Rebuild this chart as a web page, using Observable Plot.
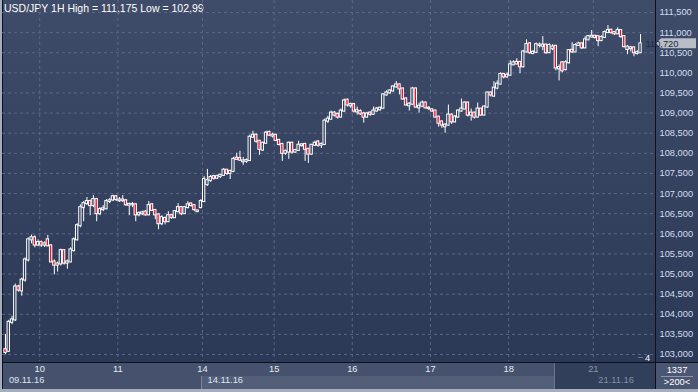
<!DOCTYPE html>
<html><head><meta charset="utf-8">
<script src="https://cdn.jsdelivr.net/npm/d3@7"></script>
<script src="https://cdn.jsdelivr.net/npm/@observablehq/plot@0.6"></script>
<style>
html,body{margin:0;padding:0;background:#2d3a56;}
#wrap{position:relative;width:698px;height:392px;overflow:hidden;background:linear-gradient(#3f4c69,#2c3956 92%);font-family:"Liberation Sans",Arial,sans-serif;}
.abs{position:absolute;}
#wrap svg{position:absolute;left:0;top:0;}
.t{position:absolute;font-size:9.3px;line-height:12px;white-space:pre;}
</style></head><body>
<div id="wrap">
  <div class="abs" style="left:0;top:363px;width:656px;height:13px;background:#46526d"></div>
  <div class="abs" style="left:0;top:376px;width:201px;height:13px;background:#46526d"></div>
  <div class="abs" style="left:201px;top:376px;width:354px;height:13px;background:#535f79"></div>
  <div class="abs" style="left:201px;top:376px;width:1px;height:13px;background:#7b869c"></div>
  <div class="abs" style="left:555px;top:363px;width:101px;height:26px;background:#323f5a"></div>
  <div class="abs" style="left:554px;top:363px;width:1px;height:26px;background:#6a7590"></div>
  <div class="abs" style="left:656px;top:363px;width:42px;height:26px;background:#4b5772"></div>
  <div class="abs" style="left:661px;top:376px;width:32px;height:1px;background:#8c96aa"></div>
  <div class="abs" style="left:0;top:362px;width:698px;height:1px;background:#0b111d"></div>
  <div class="abs" style="left:655px;top:0;width:1px;height:389px;background:#0b111d"></div>
  <div class="abs" style="left:0;top:389px;width:698px;height:3px;background:#a6aebe"></div>
  <div class="abs" style="left:0;top:0;width:2px;height:392px;background:#a6aebe"></div>
  <div class="abs" style="left:2px;top:0;width:1px;height:389px;background:#0b111d"></div>
  <div class="abs" style="left:638px;top:357px;width:5px;height:1px;background:#6d7890"></div>
  <div class="t" id="title" style="left:4px;top:2px;font-size:10.5px;color:#ffffff"></div>
  <div class="t" style="left:645px;top:352px;color:#ffffff">4</div>
  <div class="t" style="left:656px;top:364px;width:42px;text-align:center;color:#ffffff">1337</div>
  <div class="t" style="left:656px;top:376px;width:42px;text-align:center;color:#ffffff">&gt;200&lt;</div>
</div>
<script>
const title = "USD/JPY 1H High = 111,175 Low = 102,99";

const opens = [
103.12,103.08,103.80,103.86,104.68,104.58,104.85,105.35,105.85,105.90,
105.72,105.78,105.72,105.85,105.70,105.30,105.22,105.25,105.58,105.27,
105.30,105.58,105.85,106.20,106.65,106.75,106.80,106.70,106.85,106.50,
106.60,106.62,106.80,106.84,106.92,106.82,106.84,106.82,106.71,106.73,
106.72,106.47,106.50,106.54,106.47,106.72,106.58,106.47,106.25,106.38,
106.30,106.45,106.40,106.55,106.65,106.50,106.65,106.74,106.70,106.57,
106.65,106.80,107.22,107.32,107.42,107.38,107.42,107.45,107.58,107.50,
107.55,107.88,107.87,107.79,107.80,107.82,108.40,108.45,108.30,108.08,
108.25,108.52,108.43,108.45,108.32,108.22,108.00,108.03,108.25,108.03,
108.07,108.19,108.22,108.10,107.98,108.20,108.28,108.20,108.22,108.80,
108.85,109.00,108.97,108.90,109.05,109.32,109.18,109.21,109.03,109.04,
108.98,108.90,109.00,108.97,109.05,109.08,109.12,109.45,109.50,109.55,
109.65,109.70,109.60,109.35,109.18,109.22,109.60,109.13,109.17,109.25,
109.11,109.08,109.05,108.90,108.78,108.66,108.70,108.95,108.78,108.90,
109.05,109.10,109.25,108.95,109.00,108.90,109.10,108.95,109.15,109.50,
109.42,109.62,109.72,109.96,109.90,109.94,110.20,110.22,110.26,110.15,
110.52,110.72,110.48,110.51,110.68,110.66,110.69,110.50,110.60,110.66,
110.10,110.25,110.08,110.25,110.56,110.52,110.68,110.72,110.62,110.82,
110.89,110.91,110.90,110.80,110.88,111.00,111.06,111.00,110.97,111.05,
110.90,110.58,110.60,110.62,110.48,110.50];

const highs = [
103.50,103.85,103.95,104.75,104.72,104.90,105.40,105.90,105.97,105.95,
105.85,105.82,105.80,105.96,105.72,105.35,105.30,105.62,105.60,105.35,
105.65,105.90,106.25,106.72,106.80,106.90,106.84,106.95,106.88,106.65,
106.70,106.85,106.88,106.96,106.95,106.90,106.95,106.85,106.76,106.78,
106.75,106.55,106.56,106.58,106.80,106.75,106.60,106.50,106.45,106.42,
106.55,106.48,106.58,106.75,106.68,106.68,106.80,106.77,106.72,106.58,
106.85,107.42,107.60,107.45,107.45,107.46,107.48,107.62,107.60,107.58,
107.90,108.00,108.05,107.90,107.86,108.45,108.55,108.48,108.32,108.28,
108.55,108.55,108.50,108.47,108.35,108.25,108.08,108.28,108.28,108.10,
108.30,108.24,108.25,108.12,108.22,108.30,108.32,108.26,108.85,108.92,
109.05,109.04,109.00,109.10,109.35,109.35,109.25,109.24,109.15,109.08,
109.02,109.02,109.03,109.15,109.14,109.15,109.48,109.55,109.58,109.68,
109.78,109.72,109.62,109.38,109.26,109.64,109.62,109.25,109.30,109.27,
109.16,109.10,109.07,108.92,108.80,108.74,109.20,108.98,108.94,109.08,
109.35,109.28,109.27,109.10,109.02,109.25,109.12,109.18,109.52,109.53,
109.78,109.80,110.00,109.99,110.00,110.30,110.30,110.35,110.28,110.56,
110.82,110.75,110.55,110.74,110.74,110.90,110.71,110.72,110.70,110.68,
110.20,110.28,110.30,110.58,110.75,110.72,110.76,110.74,110.90,110.93,
111.05,110.93,110.92,110.92,111.04,111.175,111.08,111.02,111.12,111.07,
110.92,110.68,110.66,110.64,110.55,110.95];

const lows = [
102.99,103.06,103.74,103.82,104.55,104.45,104.80,105.30,105.75,105.65,
105.68,105.66,105.66,105.68,105.28,104.98,105.05,105.20,105.22,105.12,
105.28,105.55,105.82,106.15,106.30,106.70,106.45,106.65,106.30,106.45,
106.55,106.60,106.75,106.80,106.80,106.78,106.78,106.68,106.45,106.65,
106.30,106.42,106.45,106.44,106.45,106.55,106.35,106.10,106.20,106.22,
106.28,106.36,106.38,106.52,106.45,106.48,106.62,106.66,106.55,106.53,
106.62,106.78,107.18,107.28,107.33,107.35,107.38,107.43,107.45,107.35,
107.52,107.82,107.80,107.70,107.75,107.80,108.38,108.25,107.95,108.05,
108.22,108.42,108.38,108.30,108.18,107.80,107.95,107.85,107.98,108.00,
108.05,108.15,107.80,107.75,107.95,108.18,108.15,108.12,108.20,108.74,
108.82,108.90,108.85,108.88,109.02,109.15,109.12,109.00,108.95,108.94,
108.75,108.88,108.92,108.95,109.02,109.05,109.10,109.42,109.47,109.52,
109.62,109.45,109.32,109.18,109.05,109.20,109.12,109.00,109.14,109.10,
109.06,109.02,108.88,108.65,108.62,108.50,108.68,108.72,108.76,108.88,
109.02,109.08,108.90,108.80,108.85,108.88,108.92,108.93,109.12,109.40,
109.40,109.58,109.70,109.85,109.86,109.92,110.18,110.20,109.98,110.12,
110.50,110.46,110.45,110.48,110.62,110.55,110.46,110.48,110.55,110.05,
109.80,110.00,110.05,110.22,110.48,110.50,110.66,110.58,110.60,110.80,
110.87,110.84,110.65,110.78,110.86,110.98,110.96,110.93,110.95,110.86,
110.62,110.45,110.52,110.40,110.44,110.48];

const closes = [
103.05,103.80,103.86,104.68,104.60,104.85,105.35,105.85,105.90,105.72,
105.78,105.72,105.75,105.70,105.30,105.22,105.25,105.58,105.27,105.30,
105.60,105.85,106.20,106.65,106.75,106.80,106.70,106.85,106.50,106.60,
106.62,106.80,106.82,106.92,106.85,106.84,106.82,106.72,106.73,106.72,
106.47,106.50,106.52,106.47,106.70,106.58,106.47,106.25,106.40,106.30,
106.45,106.40,106.55,106.65,106.50,106.65,106.72,106.70,106.60,106.55,
106.80,107.35,107.32,107.40,107.38,107.42,107.45,107.58,107.50,107.55,
107.85,107.85,107.83,107.81,107.82,108.40,108.45,108.30,108.10,108.25,
108.50,108.45,108.45,108.32,108.22,108.00,108.05,108.25,108.03,108.07,
108.20,108.21,108.10,107.98,108.20,108.25,108.20,108.22,108.80,108.85,
109.00,108.95,108.90,109.05,109.30,109.20,109.21,109.05,109.06,108.98,
108.90,108.98,108.97,109.05,109.10,109.12,109.45,109.50,109.55,109.65,
109.70,109.60,109.35,109.20,109.22,109.60,109.15,109.17,109.25,109.13,
109.12,109.05,108.90,108.75,108.70,108.70,108.95,108.78,108.90,109.05,
109.10,109.25,108.95,109.00,108.90,109.10,108.95,109.15,109.50,109.45,
109.62,109.72,109.96,109.90,109.94,110.20,110.25,110.26,110.15,110.52,
110.70,110.50,110.51,110.70,110.69,110.69,110.50,110.68,110.64,110.12,
110.13,110.05,110.25,110.55,110.52,110.68,110.72,110.62,110.82,110.90,
110.91,110.88,110.80,110.88,111.00,111.05,111.00,110.97,111.05,110.90,
110.65,110.64,110.62,110.50,110.50,110.72];

const dayLabels = ["10","11","14","15","16","17","18","21"];
const dayFirstBar = [11,35,61,83,107,131,155,181];
const weekLabels = ["09.11.16","14.11.16","21.11.16"];
const weekFirstBar = [0,61,181];
const yTicks = [103,103.5,104,104.5,105,105.5,106,106.5,107,107.5,108,108.5,109,109.5,110,110.5,111,111.5];

document.getElementById("title").textContent = title;

const bars = closes.map((c, i) => ({i, o: opens[i], h: highs[i], l: lows[i], c}));
const fmt = v => v.toFixed(3).replace(".", ",");
const days = dayLabels.map((t, k) => ({t, x: dayFirstBar[k] - 0.5, col: k === dayLabels.length - 1 ? "#8a95ab" : "#e4eaf5"}));
const weeks = weekLabels.map((t, k) => ({t, x: weekFirstBar[k] - 0.5, col: k === weekLabels.length - 1 ? "#8490a8" : "#dfe6f2"}));

const grid = "#5a6783";
const fs = 9.3;
const chart = Plot.plot({
  width: 698, height: 392,
  marginLeft: 2, marginRight: 43, marginTop: 0, marginBottom: 31,
  x: {domain: [-0.923, 199.6], axis: null},
  y: {domain: [102.826, 111.798], axis: null},
  color: {type: "identity"},
  style: {background: "transparent", fontFamily: "Liberation Sans, Arial, sans-serif", overflow: "visible"},
  marks: [
    Plot.ruleY(yTicks, {y: d => d, stroke: grid, strokeDasharray: "3,3"}),
    Plot.ruleX(days, {x: "x", stroke: grid, strokeDasharray: "3,3"}),
    Plot.ruleX(bars, {x: "i", y1: "l", y2: "h", stroke: "#ffffff", strokeWidth: 1}),
    Plot.rect(bars, {
      x1: d => d.i - 0.36, x2: d => d.i + 0.36,
      y1: d => Math.min(d.o, d.c), y2: d => Math.max(d.o, d.c),
      fill: d => d.c < d.o ? "#e8102c" : "#2f3c59",
      stroke: "#ffffff", strokeWidth: 1, insetTop: -0.5, insetBottom: -0.5
    }),
    Plot.text(yTicks, {y: d => d, frameAnchor: "right", dx: 4, textAnchor: "start", text: d => fmt(d), fill: "#d3ddef", fontSize: fs}),
    Plot.text(days, {x: "x", frameAnchor: "bottom", dy: 10, text: "t", fill: "col", fontSize: fs}),
    Plot.text(weeks, {x: "x", frameAnchor: "bottom", dy: 21, dx: 5, textAnchor: "start", text: "t", fill: "col", fontSize: fs})
  ]
});
document.getElementById("wrap").appendChild(chart);

// current price tag
const last = bars[bars.length - 1];
const yv = chart.scale("y").apply(last.c);
const g = d3.select(chart).append("g");
g.append("path")
  .attr("d", `M656,${yv} L661,${yv - 5} L696,${yv - 5} L696,${yv + 5} L661,${yv + 5} Z`)
  .attr("fill", "#b9bdc6");
g.append("text").attr("x", 662).attr("y", yv).attr("dy", "0.36em")
  .attr("font-size", fs).attr("fill", "#1d2a44").text(fmt(last.c));
</script>
</body></html>
